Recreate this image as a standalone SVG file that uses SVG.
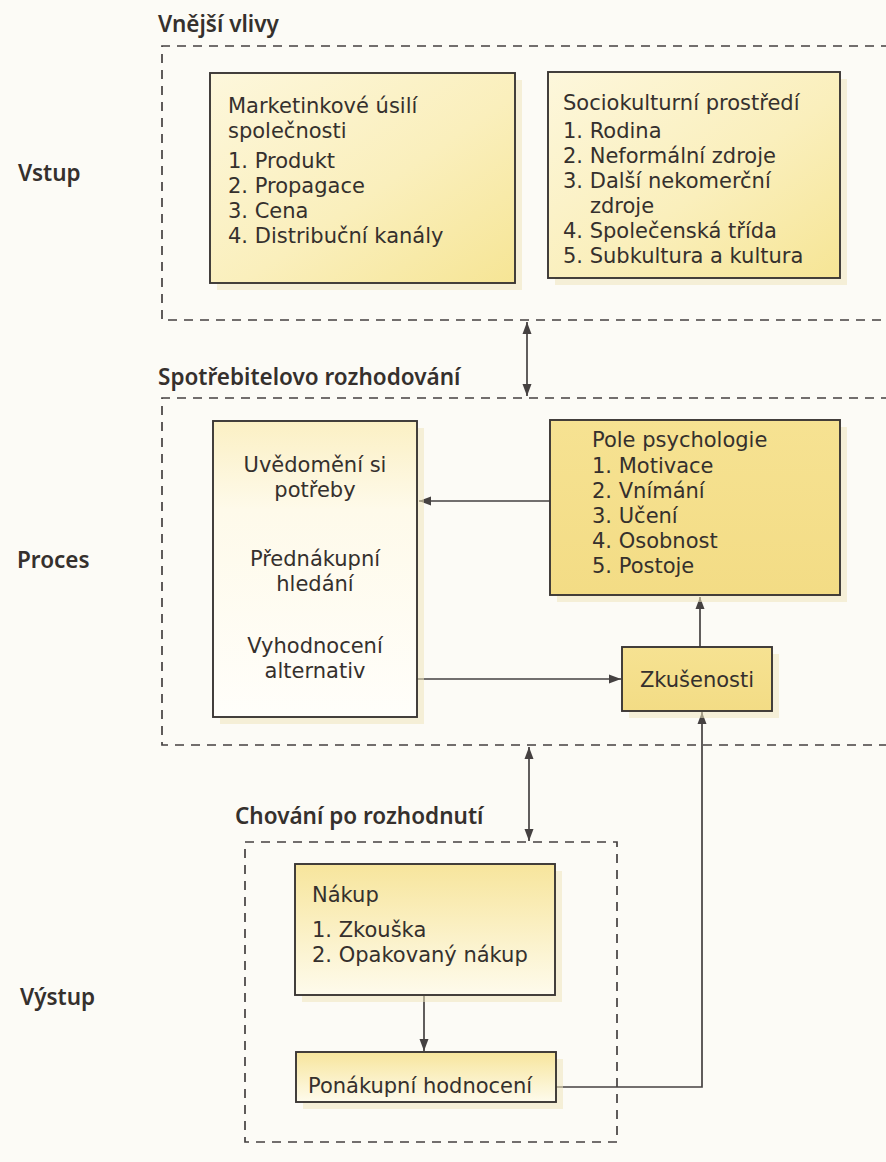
<svg xmlns="http://www.w3.org/2000/svg" width="886" height="1162" viewBox="0 0 886 1162">
  <defs>
    <linearGradient id="gDiag" x1="0" y1="0" x2="1" y2="1">
      <stop offset="0" stop-color="#fdf7dc"/>
      <stop offset="0.55" stop-color="#faefbc"/>
      <stop offset="1" stop-color="#f6e595"/>
    </linearGradient>
    <linearGradient id="gSolid" x1="0" y1="0" x2="0" y2="1">
      <stop offset="0" stop-color="#f6e292"/>
      <stop offset="1" stop-color="#f3dc85"/>
    </linearGradient>
    <linearGradient id="gFade" x1="0" y1="0" x2="0" y2="1">
      <stop offset="0" stop-color="#fbf0c4"/>
      <stop offset="0.3" stop-color="#fefaea"/>
      <stop offset="1" stop-color="#fffefa"/>
    </linearGradient>
    <linearGradient id="gFadeShort" x1="0" y1="0" x2="0" y2="1">
      <stop offset="0" stop-color="#f7e59c"/>
      <stop offset="1" stop-color="#fefbec"/>
    </linearGradient>
    <marker id="arr" viewBox="0 0 12 10" refX="12" refY="5" markerWidth="12" markerHeight="10" markerUnits="userSpaceOnUse" orient="auto-start-reverse">
      <path d="M0,0.5 L12,5 L0,9.5 z" fill="#454141"/>
    </marker>
    <style>
      .bg { fill: #fcfbf6; }
      .frame { fill: none; stroke: #444040; stroke-width: 1.7; stroke-dasharray: 9 7; }
      .box { stroke: #3a3634; stroke-width: 1.9; }
      .shadow { fill: #efe5bd; opacity: 0.55; }
      .conn { fill: none; stroke: #454141; stroke-width: 1.7; }
      .t { font-family: "DejaVu Sans", "Noto Sans", sans-serif; font-size: 21px; fill: #35302d; }
      .h { font-family: "Noto Sans", "Open Sans", "DejaVu Sans", sans-serif; font-size: 22.5px; font-weight: 600; fill: #35302d; }
      .c { text-anchor: middle; }
    </style>
  </defs>

  <rect class="bg" x="0" y="0" width="886" height="1162"/>

  <!-- section frames and side labels -->
  <g id="sections">
    <text class="h" x="158" y="32">Vnější vlivy</text>
    <path class="frame" d="M890,46 H162 V320 H890"/>
    <text class="h" x="158" y="385">Spotřebitelovo rozhodování</text>
    <path class="frame" d="M890,398 H162 V745 H890"/>
    <text class="h" x="235" y="824">Chování po rozhodnutí</text>
    <rect class="frame" x="245" y="842" width="372" height="300"/>
    <text class="h" x="18" y="181">Vstup</text>
    <text class="h" x="17" y="568">Proces</text>
    <text class="h" x="20" y="1005">Výstup</text>
  </g>

  <!-- connectors -->
  <g id="connectors">
    <line class="conn" x1="527" y1="322" x2="527" y2="396" marker-start="url(#arr)" marker-end="url(#arr)"/>
    <line class="conn" x1="529" y1="747" x2="529" y2="841" marker-start="url(#arr)" marker-end="url(#arr)"/>
    <line class="conn" x1="550" y1="501" x2="419" y2="501" marker-end="url(#arr)"/>
    <line class="conn" x1="417" y1="679" x2="621" y2="679" marker-end="url(#arr)"/>
    <line class="conn" x1="700" y1="647" x2="700" y2="597" marker-end="url(#arr)"/>
    <path class="conn" d="M556,1087 H702 V712" marker-end="url(#arr)"/>
    <line class="conn" x1="424" y1="996" x2="424" y2="1051" marker-end="url(#arr)"/>
  </g>

  <g id="marketing">
    <rect class="shadow" x="217" y="80" width="305" height="210"/>
    <rect class="box" x="210" y="73" width="305" height="210" fill="url(#gDiag)"/>
    <text class="t" x="228" y="113">Marketinkové úsilí</text>
    <text class="t" x="228" y="138">společnosti</text>
    <text class="t" x="228" y="168">1. Produkt</text>
    <text class="t" x="228" y="193">2. Propagace</text>
    <text class="t" x="228" y="218">3. Cena</text>
    <text class="t" x="228" y="243">4. Distribuční kanály</text>
  </g>

  <g id="sociokultura">
    <rect class="shadow" x="555" y="79" width="292" height="206"/>
    <rect class="box" x="548" y="72" width="292" height="206" fill="url(#gDiag)"/>
    <text class="t" x="563" y="110">Sociokulturní prostředí</text>
    <text class="t" x="563" y="138">1. Rodina</text>
    <text class="t" x="563" y="163">2. Neformální zdroje</text>
    <text class="t" x="563" y="188">3. Další nekomerční</text>
    <text class="t" x="590" y="213">zdroje</text>
    <text class="t" x="563" y="238">4. Společenská třída</text>
    <text class="t" x="563" y="263">5. Subkultura a kultura</text>
  </g>

  <g id="rozhodovani">
    <rect class="shadow" x="220" y="428" width="204" height="296"/>
    <rect class="box" x="213" y="421" width="204" height="296" fill="url(#gFade)"/>
    <text class="t c" x="315" y="472">Uvědomění si</text>
    <text class="t c" x="315" y="497">potřeby</text>
    <text class="t c" x="315" y="566">Přednákupní</text>
    <text class="t c" x="315" y="591">hledání</text>
    <text class="t c" x="315" y="653">Vyhodnocení</text>
    <text class="t c" x="315" y="678">alternativ</text>
  </g>

  <g id="psychologie">
    <rect class="shadow" x="557" y="427" width="290" height="175"/>
    <rect class="box" x="550" y="420" width="290" height="175" fill="url(#gSolid)"/>
    <text class="t" x="592" y="447">Pole psychologie</text>
    <text class="t" x="592" y="473">1. Motivace</text>
    <text class="t" x="592" y="498">2. Vnímání</text>
    <text class="t" x="592" y="523">3. Učení</text>
    <text class="t" x="592" y="548">4. Osobnost</text>
    <text class="t" x="592" y="573">5. Postoje</text>
  </g>

  <g id="zkusenosti">
    <rect class="shadow" x="629" y="654" width="150" height="64"/>
    <rect class="box" x="622" y="647" width="150" height="64" fill="url(#gSolid)"/>
    <text class="t c" x="697" y="687">Zkušenosti</text>
  </g>

  <g id="nakup">
    <rect class="shadow" x="302" y="871" width="260" height="131"/>
    <rect class="box" x="295" y="864" width="260" height="131" fill="url(#gFadeShort)"/>
    <text class="t" x="312" y="902">Nákup</text>
    <text class="t" x="312" y="937">1. Zkouška</text>
    <text class="t" x="312" y="962">2. Opakovaný nákup</text>
  </g>

  <g id="ponakupni">
    <rect class="shadow" x="303" y="1059" width="260" height="50"/>
    <rect class="box" x="296" y="1052" width="260" height="50" fill="url(#gFadeShort)"/>
    <text class="t" x="308" y="1093">Ponákupní hodnocení</text>
  </g>
</svg>
